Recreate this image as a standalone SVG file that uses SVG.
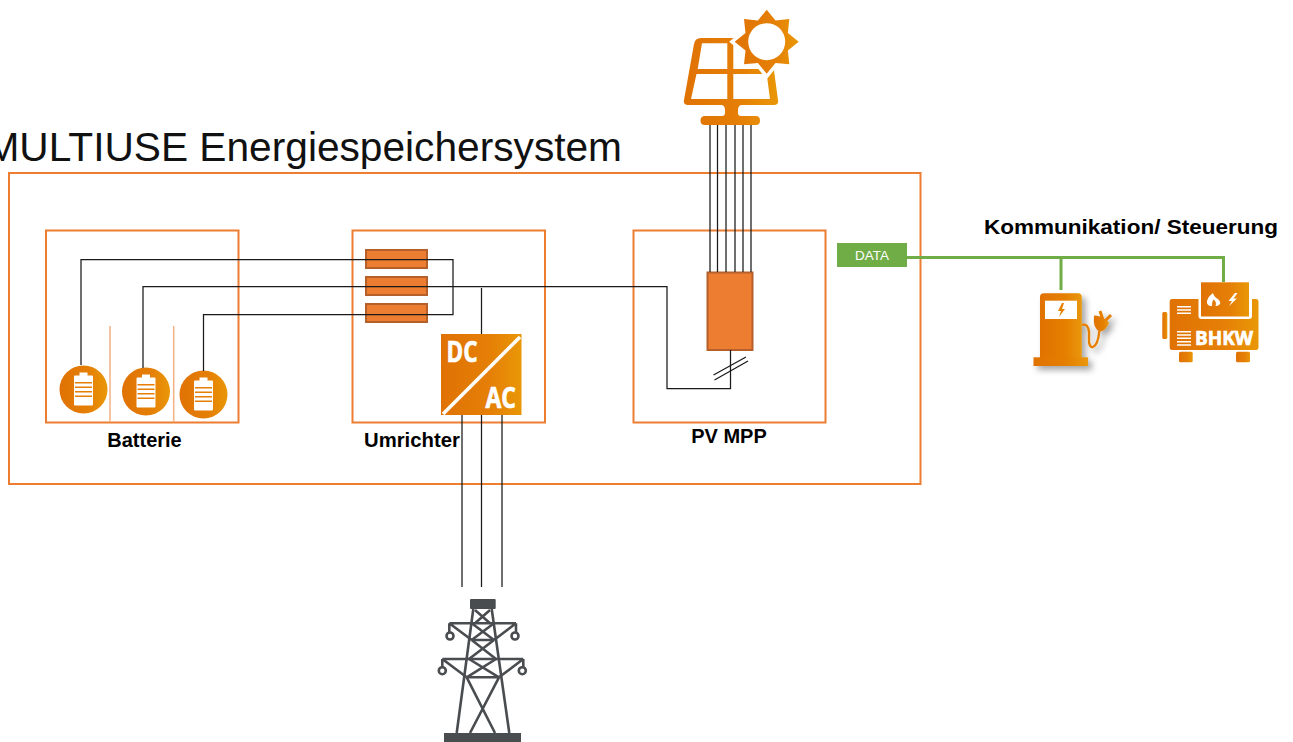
<svg xmlns="http://www.w3.org/2000/svg" width="1293" height="742" viewBox="0 0 1293 742">
<style>
.box{fill:none;stroke:#ED7D31;stroke-width:2}
.wire{fill:none;stroke:#1a1a1a;stroke-width:1.25}
.div{fill:none;stroke:#F4B183;stroke-width:1.5}
.green{fill:none;stroke:#70AD47;stroke-width:3}
.fuse{fill:#ED7D31;stroke:#B5602A;stroke-width:2}
.lbl{font-family:"Liberation Sans",Arial,sans-serif;font-weight:700;fill:#000}
.cond{font-family:"Open Sans","Liberation Sans",sans-serif;font-weight:700;fill:#fff;stroke:#fff;stroke-width:.7}
.wl{fill:none;stroke:#fff;stroke-width:1.6}
.tw{fill:none;stroke:#4a4d50;stroke-width:2.6}
.or{fill:url(#og)}
</style>
<defs>
<linearGradient id="og" x1="0" x2="1" y1="0" y2="0"><stop offset="0" stop-color="#E07204"/><stop offset="0.6" stop-color="#E57F06"/><stop offset="1" stop-color="#E99707"/></linearGradient>
<filter id="sh" x="-20%" y="-20%" width="150%" height="150%"><feDropShadow dx="4" dy="4" stdDeviation="3" flood-color="#000" flood-opacity="0.35"/></filter>
<g id="batt"><path d="M-4-17h8v3h4.500q1 0 1 1v28q0 1-1 1h-17q-1 0-1-1v-28q0-1 1-1h4.500z" fill="#fff"/><path d="M-8.500-6.700h17M-8.500-2.200h17M-8.500 2.300h17M-8.500 6.800h17" stroke="#E57F06" stroke-width="1.600"/></g>
</defs>
<text id="title" x="-14.500" y="161" font-family="'Liberation Sans',Arial,sans-serif" font-size="40" fill="#111" textLength="636.500" lengthAdjust="spacingAndGlyphs">MULTIUSE Energiespeichersystem</text>
<g id="system"><rect class="box" x="9" y="173" width="911.500" height="311"/></g>
<g id="batterie">
<rect class="box" x="46" y="230.500" width="192.500" height="192"/>
<path class="div" d="M110 326V422M173.700 326V422"/>
<g><circle class="or" cx="83.500" cy="389.500" r="24"/><use href="#batt" x="83.500" y="389.500"/></g>
<g><circle class="or" cx="146" cy="391.500" r="24"/><use href="#batt" x="146" y="391.500"/></g>
<g><circle class="or" cx="203.500" cy="394.500" r="24"/><use href="#batt" x="203.500" y="394.500"/></g>
<text class="lbl" x="144.500" y="447" font-size="20" text-anchor="middle">Batterie</text>
</g>
<g id="umrichter">
<rect class="box" x="352.500" y="230.500" width="192.500" height="192"/>
<rect class="fuse" x="366" y="250" width="61" height="18"/>
<rect class="fuse" x="366" y="277" width="61" height="18"/>
<rect class="fuse" x="366" y="304" width="61" height="18"/>
<text class="lbl" x="364" y="447" font-size="20.300">Umrichter</text>
</g>
<g id="pvmpp">
<rect class="box" x="633.500" y="230.500" width="192" height="192"/>
<rect class="fuse" x="707.500" y="272.500" width="45" height="77.500"/>
<text class="lbl" x="729" y="443" font-size="20" text-anchor="middle">PV MPP</text>
</g>
<g id="connectors">
<path class="wire" d="M81 365V259.500H453V314.500H203.500V371"/>
<path class="wire" d="M143 368V286.500H667V388.500H730.500V350"/>
<path class="wire" d="M481.500 288V334"/>
<path class="wire" d="M462 415V587M481.500 415V587M502 415V587"/>
<path class="wire" d="M710 125V272M717.500 125V272M726 125V272M735 125V272M743 125V272M751 125V272"/>
<path class="wire" d="M713.500 375L746 357M714.500 380L748 361"/>
<path class="green" d="M907 257.500H1223.500V282M1061 257.500V290"/>
</g>
<g id="dcac">
<rect class="or" x="441" y="334" width="80.500" height="81"/>
<path d="M443 414L520 337" stroke="#fff" stroke-width="3.500" fill="none"/>
<text class="cond" x="446.500" y="361.700" font-size="28" textLength="31" lengthAdjust="spacingAndGlyphs">DC</text>
<text class="cond" x="485.500" y="408.300" font-size="28" textLength="30.500" lengthAdjust="spacingAndGlyphs">AC</text>
</g>
<g id="data">
<rect x="837" y="243" width="70" height="24" fill="#70AD47"/>
<text x="872" y="260" font-family="'Liberation Sans',Arial,sans-serif" font-size="13.500" fill="#fff" text-anchor="middle">DATA</text>
</g>
<text id="komm" class="lbl" x="984" y="234" font-size="20.500" textLength="294" lengthAdjust="spacingAndGlyphs">Kommunikation/ Steuerung</text>
<g id="solar">
<path fill-rule="evenodd" fill="url(#og)" d="M701 38H766Q769 38 770 41L778 100Q779 105 774 105H741Q738 106 738 110V113Q738 116 741 116H756Q760 116 760 120.500Q760 125 756 125H705Q700.500 125 700.500 120.500Q700.500 116 705 116H722Q725 116 725 113V110Q725 106 722 105H688Q683 105 684 100L694 44Q695 38 701 38Z
M702 43.300H727.300V69H697.700ZM733.300 43.300H760V69H733.300ZM696.500 74H727.300V99H691ZM733.300 74H766.700L770 99H733.300Z"/>
<path d="M766.700 9.700L775.500 20.500L789.300 19L787.900 32.900L798.700 41.700L787.900 50.500L789.300 64.300L775.500 62.900L766.700 73.700L757.900 62.900L744 64.300L745.500 50.500L734.700 41.700L745.500 32.900L744 19L757.900 20.500Z" fill="#fff" stroke="#fff" stroke-width="7"/>
<path class="or" d="M766.700 9.700L775.500 20.500L789.300 19L787.900 32.900L798.700 41.700L787.900 50.500L789.300 64.300L775.500 62.900L766.700 73.700L757.900 62.900L744 64.300L745.500 50.500L734.700 41.700L745.500 32.900L744 19L757.900 20.500Z"/>
<circle cx="766.700" cy="41.700" r="18.500" fill="#fff"/>
</g>
<g id="tower">
<rect x="470" y="599" width="25.700" height="10" rx="1" fill="#4a4d50"/>
<rect x="444" y="733" width="77" height="9" fill="#4a4d50"/>
<path class="tw" d="M473.300 609L456.700 733M491.700 609L509.300 733"/>
<path class="tw" d="M475 610L490 623.300M490 610L475 623.300M471.700 623.300L494 640M494 623.300L471.700 640M471.700 640L496 659M494 640L469 659M469 659L499 677.300M496 659L466.700 677.300M466.700 677.300L495 733M499 677.300L470 733"/>
<path class="tw" d="M449.300 623.300H516M449.300 623.300L471.700 640M516 623.300L494 640M471.700 640H494M442.300 659H523.300M442.300 659L466.700 677.300M523.300 659L499 677.300M466.700 677.300H499M449.300 623.300V632M516 623.300V632M442.300 659V667M523.300 659V667"/>
<circle class="tw" cx="450" cy="636" r="3.500"/><circle class="tw" cx="515" cy="636" r="3.500"/><circle class="tw" cx="442.300" cy="670.700" r="3.500"/><circle class="tw" cx="522.300" cy="670.700" r="3.500"/>
</g>
<g id="charger" filter="url(#sh)">
<path class="or" d="M1040 297Q1040 293.300 1044 293.300H1078Q1081.700 293.300 1081.700 297V358H1040Z"/>
<rect class="or" x="1033.500" y="357.300" width="54.500" height="8.700"/>
<path d="M1082 325Q1088 323 1089 332V342Q1090 348 1093 347Q1098 345 1099.300 331" fill="none" stroke="#E57F06" stroke-width="2.400"/>
<path d="M1100 311L1103 320M1111 315L1104 322" fill="none" stroke="#E57F06" stroke-width="3"/>
<path class="or" d="M1094 315.500Q1101 315 1109 322.500Q1106 331 1100 331.500Q1092.500 329 1094 315.500Z"/>
<rect x="1045" y="300.700" width="32" height="18.300" fill="#fff"/>
<path d="M1062 303L1058 311H1061L1059 317L1065 309H1062L1064 303Z" fill="#E57F06"/>
</g>
<g id="bhkw">
<path class="or" d="M1172 299H1198.500V316Q1198.500 319 1201.500 319H1249Q1252 319 1252 316V299H1256Q1258.500 299 1258.500 302V347Q1258.500 350 1256 350H1172Q1169.700 350 1169.700 347V302Q1169.700 299 1172 299Z"/>
<rect class="or" x="1201" y="282.300" width="48" height="34.200"/>
<rect class="or" x="1162.300" y="312" width="5" height="27" rx="1.500"/>
<rect class="or" x="1179" y="351.700" width="13.700" height="10.600" rx="1.500"/>
<rect class="or" x="1236" y="351.700" width="14" height="10.600" rx="1.500"/>
<path class="wl" d="M1177 306.700H1191M1177 310H1191M1177 313.300H1191M1177 331.700H1191M1177 335H1191M1177 338.300H1191M1177 341.700H1191M1177 345H1191"/>
<text class="cond" x="1195" y="345" font-size="20" textLength="58" lengthAdjust="spacingAndGlyphs">BHKW</text>
<path d="M1213 293Q1214 297 1218 299Q1221 302 1220 304Q1218 306.500 1215.500 306Q1217 302 1213.500 299.500Q1211.500 302 1212 306Q1208 306.500 1207 303Q1206.500 298 1213 293Z" fill="#fff"/>
<path d="M1235 293L1228.500 301H1232L1229 306L1237 298.500H1233.500L1237.500 293Z" fill="#fff"/>
</g>
</svg>
